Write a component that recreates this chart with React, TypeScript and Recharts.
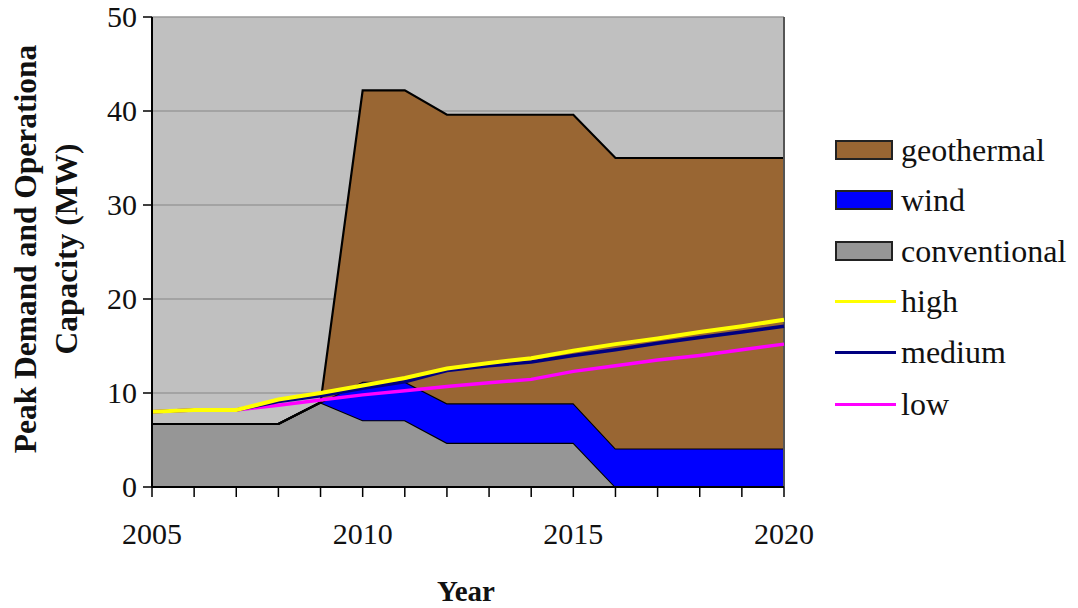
import React from 'react';
import { ComposedChart, Area, Line, XAxis, YAxis, CartesianGrid, ReferenceLine } from 'recharts';

const years = [2005, 2006, 2007, 2008, 2009, 2010, 2011, 2012, 2013, 2014, 2015, 2016, 2017, 2018, 2019, 2020];
const conventional = [6.7, 6.7, 6.7, 6.7, 9.0, 7.1, 7.1, 4.7, 4.7, 4.7, 4.7, 0, 0, 0, 0, 0];
const wind = [0, 0, 0, 0, 0, 4.1, 4.1, 4.2, 4.2, 4.2, 4.2, 4.1, 4.1, 4.1, 4.1, 4.1];
const geothermal = [0, 0, 0, 0, 0, 31.0, 31.0, 30.7, 30.7, 30.7, 30.7, 30.9, 30.9, 30.9, 30.9, 30.9];
const high = [8.0, 8.2, 8.2, 9.3, 10.0, 10.8, 11.6, 12.6, 13.2, 13.7, 14.5, 15.2, 15.8, 16.5, 17.1, 17.8];
const medium = [8.0, 8.2, 8.2, 9.1, 9.7, 10.5, 11.2, 12.4, 12.9, 13.3, 14.0, 14.6, 15.3, 15.9, 16.5, 17.1];
const low = [8.0, 8.2, 8.2, 8.7, 9.25, 9.8, 10.25, 10.7, 11.1, 11.45, 12.3, 12.9, 13.5, 14.0, 14.6, 15.2];
const yTicks = [0, 10, 20, 30, 40, 50];
const xLabelYears = [2005, 2010, 2015, 2020];

const legendItems = [
  { name: 'geothermal', color: '#996633', kind: 'rect' },
  { name: 'wind', color: '#0000FF', kind: 'rect' },
  { name: 'conventional', color: '#969696', kind: 'rect' },
  { name: 'high', color: '#FFFF00', kind: 'line' },
  { name: 'medium', color: '#000080', kind: 'line' },
  { name: 'low', color: '#FF00FF', kind: 'line' },
];

const data = years.map((year, i) => ({
  year,
  conventional: conventional[i],
  wind: wind[i],
  geothermal: geothermal[i],
  high: high[i],
  medium: medium[i],
  low: low[i],
}));

const FONT = '"Liberation Serif", "Times New Roman", serif';

const XTick = (props: any) => {
  const { x, y, payload } = props;
  if (!xLabelYears.includes(payload.value)) return null;
  return (
    <text x={x} y={y} dy={45} textAnchor="middle" fontFamily={FONT} fontSize={30} fill="#111">
      {payload.value}
    </text>
  );
};

const YTick = (props: any) => {
  const { x, y, payload } = props;
  return (
    <text x={x} y={y} dy={10} textAnchor="end" fontFamily={FONT} fontSize={30} fill="#111">
      {payload.value}
    </text>
  );
};

const YTitle = () => (
  <g>
    <text transform="translate(36,249) rotate(-90)" textAnchor="middle" fontFamily={FONT} fontSize={31.5} fontWeight="bold" fill="#111">
      Peak Demand and Operationa
    </text>
    <text transform="translate(77,249) rotate(-90)" textAnchor="middle" fontFamily={FONT} fontSize={31.5} fontWeight="bold" fill="#111">
      Capacity (MW)
    </text>
  </g>
);

const XTitle = () => (
  <text x={466} y={601} textAnchor="middle" fontFamily={FONT} fontSize={29} fontWeight="bold" fill="#111">
    Year
  </text>
);

const rowCenters = [150, 200, 251, 301, 352, 404];

export default function App() {
  return (
    <div style={{ position: 'absolute', left: 0, top: 0, width: 1078, height: 608, background: '#fff', fontFamily: FONT }}>
      <ComposedChart
        width={1078}
        height={608}
        data={data}
        margin={{ top: 17, right: 294, bottom: 41, left: 92 }}
      >
        <CartesianGrid vertical={false} fill="#C0C0C0" stroke="#9a9a9a" strokeWidth={1.5} />
        <XAxis
          dataKey="year"
          type="number"
          domain={[2005, 2020]}
          ticks={years}
          interval={0}
          height={80}
          tickSize={10}
          tickMargin={2}
          axisLine={{ stroke: '#000', strokeWidth: 2 }}
          tickLine={{ stroke: '#000', strokeWidth: 1.5 }}
          tick={<XTick />}
          label={<XTitle />}
        />
        <YAxis
          type="number"
          domain={[0, 50]}
          ticks={yTicks}
          interval={0}
          width={60}
          tickSize={9}
          tickMargin={6}
          axisLine={{ stroke: '#000', strokeWidth: 2 }}
          tickLine={{ stroke: '#000', strokeWidth: 1.5 }}
          tick={<YTick />}
          label={<YTitle />}
        />
        <Area type="linear" dataKey="conventional" stackId="cap" stroke="#000" strokeWidth={2.2} fill="#969696" fillOpacity={1} isAnimationActive={false} dot={false} activeDot={false} />
        <Area type="linear" dataKey="wind" stackId="cap" stroke="#000" strokeWidth={2.2} fill="#0000FF" fillOpacity={1} isAnimationActive={false} dot={false} activeDot={false} />
        <Area type="linear" dataKey="geothermal" stackId="cap" stroke="#000" strokeWidth={2.2} fill="#996633" fillOpacity={1} isAnimationActive={false} dot={false} activeDot={false} />
        <ReferenceLine x={2020} stroke="#555" strokeWidth={2} />
        <Line type="linear" dataKey="low" stroke="#FF00FF" strokeWidth={3.5} dot={false} activeDot={false} isAnimationActive={false} />
        <Line type="linear" dataKey="medium" stroke="#000080" strokeWidth={3.5} dot={false} activeDot={false} isAnimationActive={false} />
        <Line type="linear" dataKey="high" stroke="#FFFF00" strokeWidth={4} dot={false} activeDot={false} isAnimationActive={false} />
      </ComposedChart>
      {legendItems.map((item, i) => (
        <div key={item.name} style={{ position: 'absolute', left: 835, top: rowCenters[i] - 20, height: 40, display: 'flex', alignItems: 'center' }}>
          {item.kind === 'rect' ? (
            <div style={{ width: 54, height: 16, background: item.color, border: '2px solid #222', marginRight: 8 }} />
          ) : (
            <div style={{ width: 61, height: 3, background: item.color, marginRight: 5 }} />
          )}
          <span style={{ fontSize: 32, color: '#111', lineHeight: '40px', whiteSpace: 'nowrap' }}>{item.name}</span>
        </div>
      ))}
    </div>
  );
}
